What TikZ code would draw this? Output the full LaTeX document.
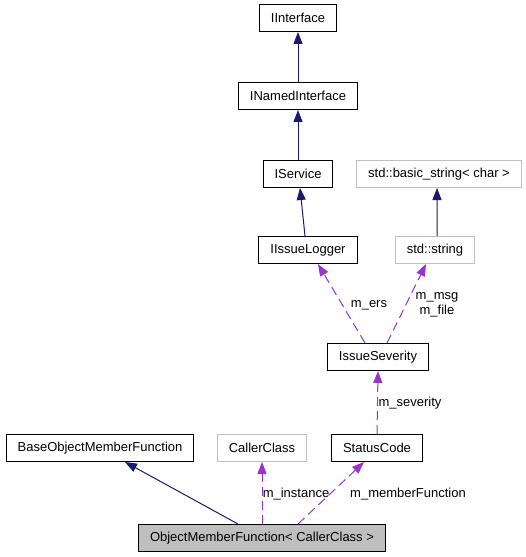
\documentclass[tikz,border=0pt]{standalone}
\usepackage{fontspec}
\setmainfont{Liberation Sans}
\usetikzlibrary{arrows.meta,positioning}
\definecolor{edgeNavy}{RGB}{25,25,112}
\definecolor{edgeOrchid}{RGB}{154,50,205}
\definecolor{greyBox}{RGB}{191,191,191}
\tikzset{
  classbox/.style={draw=black,line width=1bp,minimum height=27bp,inner xsep=11.5bp,inner ysep=0pt,font=\fontsize{13bp}{15bp}\selectfont},
  extbox/.style={classbox,draw=greyBox},
  focusbox/.style={classbox,fill=greyBox},
  inherit/.style={draw=edgeNavy,line width=1bp,-{Triangle[length=12bp,width=9bp]}},
  usage/.style={draw=edgeOrchid,line width=1bp,dash pattern=on 9bp off 5bp,-{Triangle[length=12bp,width=9bp]}},
  edgelabel/.style={font=\fontsize{13bp}{15bp}\selectfont,inner sep=0pt,align=center}
}

\begin{document}
\begin{tikzpicture}[x=1bp,y=-1bp]
\useasboundingbox (0,0) rectangle (526,557);
% classes
\node[classbox] (iiface) at (298,18) {IInterface};
\node[classbox] (inamed) at (298,96) {INamedInterface};
\node[classbox] (isvc) at (298,174) {IService};
\node[extbox] (bstr) at (439,174) {std::basic\_string< char >};
\node[classbox] (ilog) at (308,250) {IIssueLogger};
\node[extbox] (stdstr) at (435,250) {std::string};
\node[classbox] (isev) at (378,357) {IssueSeverity};
\node[classbox] (bomf) at (100,448) {BaseObjectMemberFunction};
\node[extbox] (caller) at (262,448) {CallerClass};
\node[classbox] (status) at (377,448) {StatusCode};
\node[focusbox] (omf) at (262,538) {ObjectMemberFunction< CallerClass >};
% inheritance
\draw[inherit] (inamed) -- (iiface);
\draw[inherit] (isvc) -- (inamed);
\draw[inherit] ([xshift=-3bp]ilog.north) -- ([xshift=2bp]isvc.south);
\draw[inherit] ([xshift=2bp]stdstr.north) -- ([xshift=-2bp]bstr.south);
\draw[inherit] ([xshift=-24bp]omf.north) -- ([xshift=25bp]bomf.south);
% members
\draw[usage] ([xshift=-13bp]isev.north) -- ([xshift=10bp]ilog.south);
\draw[usage] ([xshift=9bp]isev.north) -- ([xshift=-9bp]stdstr.south);
\draw[usage] (status.north) -- (isev.south);
\draw[usage] (omf.north) -- (caller.south);
\draw[usage] ([xshift=36bp]omf.north) -- ([xshift=-13bp]status.south);
% member names
\node[edgelabel] (lers) at (369,305) {m\_ers};
\node[edgelabel] (lmsg) at (437,305) {m\_msg\\m\_file};
\node[edgelabel] (lsev) at (410,403) {m\_severity};
\node[edgelabel] (linst) at (296,494) {m\_instance};
\node[edgelabel] (lfunc) at (408,494) {m\_memberFunction};
\end{tikzpicture}
\end{document}
